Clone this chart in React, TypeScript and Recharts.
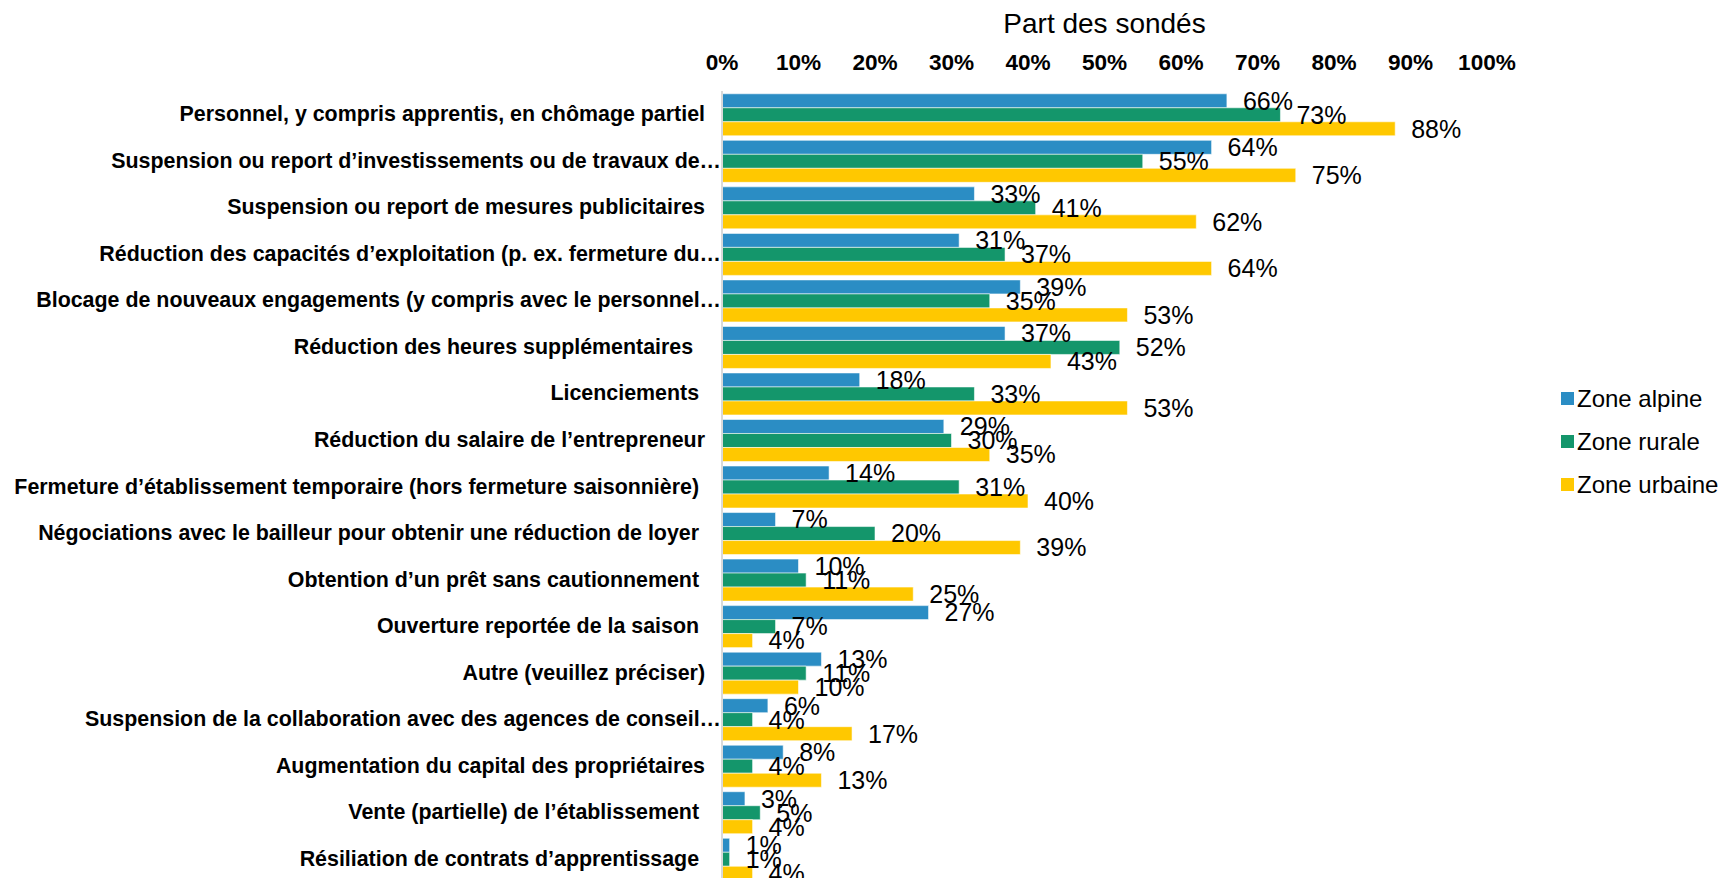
import React from "react";
import { BarChart, Bar, XAxis, YAxis, Legend, LabelList } from "recharts";

const categories = [
  "Personnel, y compris apprentis, en chômage partiel",
  "Suspension ou report d\u2019investissements ou de travaux de\u2026",
  "Suspension ou report de mesures publicitaires",
  "Réduction des capacités d\u2019exploitation (p. ex. fermeture du\u2026",
  "Blocage de nouveaux engagements (y compris avec le personnel\u2026",
  "Réduction des heures supplémentaires  ",
  "Licenciements ",
  "Réduction du salaire de l\u2019entrepreneur",
  "Fermeture d\u2019établissement temporaire (hors fermeture saisonnière) ",
  "Négociations avec le bailleur pour obtenir une réduction de loyer ",
  "Obtention d\u2019un prêt sans cautionnement ",
  "Ouverture reportée de la saison ",
  "Autre (veuillez préciser)",
  "Suspension de la collaboration avec des agences de conseil\u2026",
  "Augmentation du capital des propriétaires",
  "Vente (partielle) de l\u2019établissement ",
  "Résiliation de contrats d\u2019apprentissage ",
];

const alpine = [66, 64, 33, 31, 39, 37, 18, 29, 14, 7, 10, 27, 13, 6, 8, 3, 1];
const rurale = [73, 55, 41, 37, 35, 52, 33, 30, 31, 20, 11, 7, 11, 4, 4, 5, 1];
const urbaine = [88, 75, 62, 64, 53, 43, 53, 35, 40, 39, 25, 4, 10, 17, 13, 4, 4];

const xTicks = [0, 0.1, 0.2, 0.3, 0.4, 0.5, 0.6, 0.7, 0.8, 0.9, 1];

const seriesNames = ["Zone alpine", "Zone rurale", "Zone urbaine"];
const colors = ["#2B8DC4", "#14966B", "#FFC800"];

const data = categories.map((name, i) => ({
  name,
  alpine: alpine[i] / 100,
  rurale: rurale[i] / 100,
  urbaine: urbaine[i] / 100,
}));

const font = "'Liberation Sans', Arial, sans-serif";
const pct = (v: number) => `${Math.round(v * 100)}%`;

function CategoryTick(props: any) {
  const { y, payload } = props;
  const label: string = payload.value;
  const truncated = label.trimEnd().endsWith("\u2026");
  const right = truncated ? 721 : 705;
  return (
    <text
      x={right}
      y={y}
      dy={7}
      textAnchor="end"
      fontFamily={font}
      fontSize={21.4}
      fontWeight="bold"
      fill="#000"
      style={{ whiteSpace: "pre" }}
    >
      {label}
    </text>
  );
}

function LegendBox() {
  return (
    <div style={{ fontFamily: font, fontSize: 24, color: "#000" }}>
      {seriesNames.map((n, i) => (
        <div key={n} style={{ display: "flex", alignItems: "center", height: 43 }}>
          <span style={{ width: 13, height: 13, background: colors[i], marginRight: 3 }} />
          <span>{n}</span>
        </div>
      ))}
    </div>
  );
}

export default function App() {
  const keys = ["alpine", "rurale", "urbaine"];
  return (
    <div style={{ position: "absolute", left: 0, top: 0, background: "#fff" }}>
      <style>{`body{margin:0}`}</style>
      <BarChart
        width={1724}
        height={878}
        data={data}
        layout="vertical"
        margin={{ top: 0, right: 237, bottom: -4, left: 0 }}
        barCategoryGap="6%"
        barGap={0}
      >
        <XAxis
          type="number"
          orientation="top"
          domain={[0, 1]}
          ticks={xTicks}
          tickFormatter={pct}
          height={91}
          axisLine={false}
          tickLine={false}
          tickSize={0}
          tickMargin={21}
          interval={0}
          tick={{ fontFamily: font, fontSize: 22.6, fontWeight: "bold", fill: "#000" }}
          label={{
            value: "Part des sondés",
            position: "insideTop",
            offset: 13,
            style: { fontFamily: font, fontSize: 28, fill: "#000" },
          }}
        />
        <YAxis
          type="category"
          dataKey="name"
          width={722}
          axisLine={{ stroke: "#d9d9d9", strokeWidth: 2 }}
          tickLine={false}
          tickSize={0}
          interval={0}
          tick={<CategoryTick />}
        />
        <Legend
          layout="vertical"
          align="center"
          verticalAlign="middle"
          content={() => <LegendBox />}
          wrapperStyle={{ left: 1561, top: 377, width: 170 }}
        />
        {keys.map((k, i) => (
          <Bar
            key={k}
            dataKey={k}
            name={seriesNames[i]}
            fill={colors[i]}
            stroke="rgba(255,255,255,0.7)"
            strokeWidth={0.8}
            isAnimationActive={false}
          >
            <LabelList
              dataKey={k}
              position="right"
              offset={16}
              formatter={(v: any) => pct(v)}
              style={{ fontFamily: font, fontSize: 25, fill: "#000" }}
            />
          </Bar>
        ))}
      </BarChart>
    </div>
  );
}
